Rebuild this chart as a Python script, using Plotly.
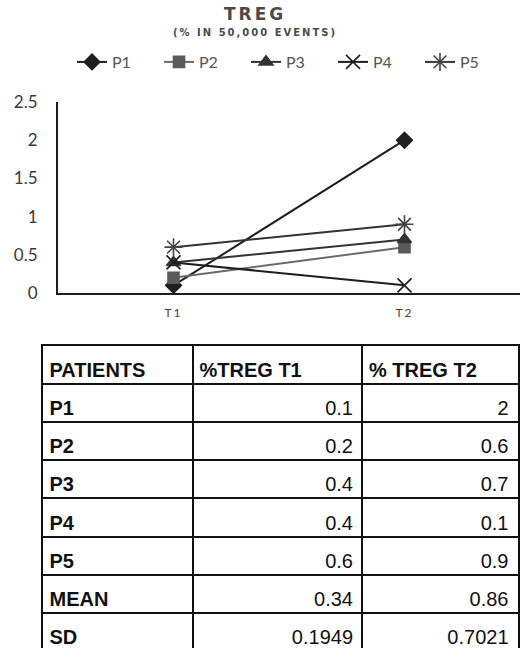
import plotly.graph_objects as go

# ---- data ----
times = ["T1", "T2"]
patients = ["P1", "P2", "P3", "P4", "P5"]
treg_t1 = [0.1, 0.2, 0.4, 0.4, 0.6]
treg_t2 = [2, 0.6, 0.7, 0.1, 0.9]
mean_vals = [0.34, 0.86]
sd_vals = [0.1949, 0.7021]
y_ticks = [0, 0.5, 1, 1.5, 2, 2.5]
y_tick_labels = ["0", "0.5", "1", "1.5", "2", "2.5"]
table_header = ["PATIENTS", "%TREG T1", "% TREG T2"]
row_labels = patients + ["MEAN", "SD"]

# ---- styles ----
symbols = ["diamond", "square", "triangle-up", "x-thin-open", "asterisk-open"]
marker_colors = ["#1e1e1e", "#5a5a5a", "#333333", "#1e1e1e", "#444444"]
line_colors = ["#1e1e1e", "#6a6a6a", "#333333", "#1e1e1e", "#333333"]
marker_sizes = [12, 11, 12, 14, 15]

W, H = 520, 648
fig = go.Figure()

for i, p in enumerate(patients):
    fig.add_trace(go.Scatter(
        x=times, y=[treg_t1[i], treg_t2[i]], name=p, mode="lines+markers",
        line=dict(color=line_colors[i], width=2),
        marker=dict(symbol=symbols[i], size=marker_sizes[i], color=marker_colors[i],
                    line=dict(color=marker_colors[i], width=1.6)),
        cliponaxis=False, xaxis="x", yaxis="y",
    ))

# ---- table drawn on its own axes (columns in px units, rows in row units) ----
col_widths = [150, 169.5, 155.5]
col_edges = [0, col_widths[0], col_widths[0] + col_widths[1], sum(col_widths)]
row_h = 38.2
tbl_top, tbl_left, tbl_right = 345.5, 42.5, 517.5
n_rows_visible = (H - tbl_top) / row_h
pad_l, pad_r = 7, 9
text_row_pos = 0.686
tsize = 20

rows_text = [table_header] + [
    [row_labels[i],
     str((treg_t1 + [mean_vals[0], sd_vals[0]])[i]),
     str((treg_t2 + [mean_vals[1], sd_vals[1]])[i])]
    for i in range(len(row_labels))
]
ys = [r + text_row_pos for r in range(len(rows_text))]
tfont = "Liberation Sans, Arial, sans-serif"

fig.add_trace(go.Scatter(
    x=[col_edges[0] + pad_l] * len(rows_text), y=ys, mode="text",
    text=[f"<b>{r[0]}</b>" for r in rows_text], textposition="middle right",
    textfont=dict(family=tfont, size=tsize, color="#111111"),
    xaxis="x2", yaxis="y2", showlegend=False, hoverinfo="skip", cliponaxis=False,
))
fig.add_trace(go.Scatter(
    x=[col_edges[1] + pad_l, col_edges[2] + pad_l], y=[ys[0], ys[0]], mode="text",
    text=[f"<b>{rows_text[0][1]}</b>", f"<b>{rows_text[0][2]}</b>"],
    textposition="middle right",
    textfont=dict(family=tfont, size=tsize, color="#111111"),
    xaxis="x2", yaxis="y2", showlegend=False, hoverinfo="skip", cliponaxis=False,
))
for c in (1, 2):
    fig.add_trace(go.Scatter(
        x=[col_edges[c + 1] - pad_r] * (len(rows_text) - 1), y=ys[1:], mode="text",
        text=[r[c] for r in rows_text[1:]], textposition="middle left",
        textfont=dict(family=tfont, size=tsize, color="#111111"),
        xaxis="x2", yaxis="y2", showlegend=False, hoverinfo="skip", cliponaxis=False,
    ))

grid_style = dict(showgrid=True, gridcolor="#111111", gridwidth=1.8, zeroline=False,
                  showticklabels=False, ticks="", fixedrange=True)

fig.update_layout(
    width=W, height=H,
    margin=dict(l=0, r=0, t=0, b=0, autoexpand=False),
    paper_bgcolor="white", plot_bgcolor="white",
    font=dict(family="Lato, Open Sans, sans-serif", color="#444444"),
    showlegend=True,
    legend=dict(orientation="h", x=72 / W, xanchor="left", y=1 - 62 / H, yanchor="middle",
                font=dict(size=16, color="#555555"), entrywidth=42, itemwidth=30,
                bgcolor="rgba(0,0,0,0)"),
    xaxis=dict(domain=[58 / W, 1], range=[-0.5, 1.5], type="category",
               tickvals=times,
               ticktext=[f"<span style='letter-spacing:2px'>{t}</span>" for t in times],
               showline=True, linecolor="#1e1e1e", linewidth=2, showgrid=False,
               ticks="", ticklabelstandoff=8, tickfont=dict(size=12, color="#444444"),
               zeroline=False),
    yaxis=dict(domain=[1 - 293 / H, 1 - 102 / H], range=[0, 2.5],
               tickvals=y_ticks, ticktext=y_tick_labels,
               showline=True, linecolor="#1e1e1e", linewidth=2, showgrid=False,
               ticks="", ticklabelstandoff=15, tickfont=dict(size=17, color="#3a3a3a"),
               zeroline=False),
    xaxis2=dict(domain=[tbl_left / W, tbl_right / W], range=[col_edges[0], col_edges[-1]],
                anchor="y2", side="top", tickvals=col_edges[1:-1],
                showline=True, linecolor="#111111", linewidth=2, **grid_style),
    yaxis2=dict(domain=[0, 1 - tbl_top / H], range=[n_rows_visible, 0],
                anchor="x2", tickvals=list(range(1, len(rows_text))),
                showline=True, mirror=True, linecolor="#111111", linewidth=2, **grid_style),
    annotations=[
        dict(text="<b><span style='letter-spacing:3px'>TREG</span></b>", x=0.49, y=1 - 14 / H,
             xref="paper", yref="paper", yanchor="middle", showarrow=False,
             font=dict(size=17, color="#4a4a4a", family="DejaVu Sans")),
        dict(text="<b><span style='letter-spacing:2px'>(% IN 50,000 EVENTS)</span></b>", x=0.49,
             y=1 - 32 / H, xref="paper", yref="paper", yanchor="middle", showarrow=False,
             font=dict(size=10, color="#4a4a4a", family="DejaVu Sans")),
    ],
)

fig.write_html("out.html", config={"displayModeBar": False},
               post_script="document.body.style.margin='0';document.body.style.overflow='hidden';")
